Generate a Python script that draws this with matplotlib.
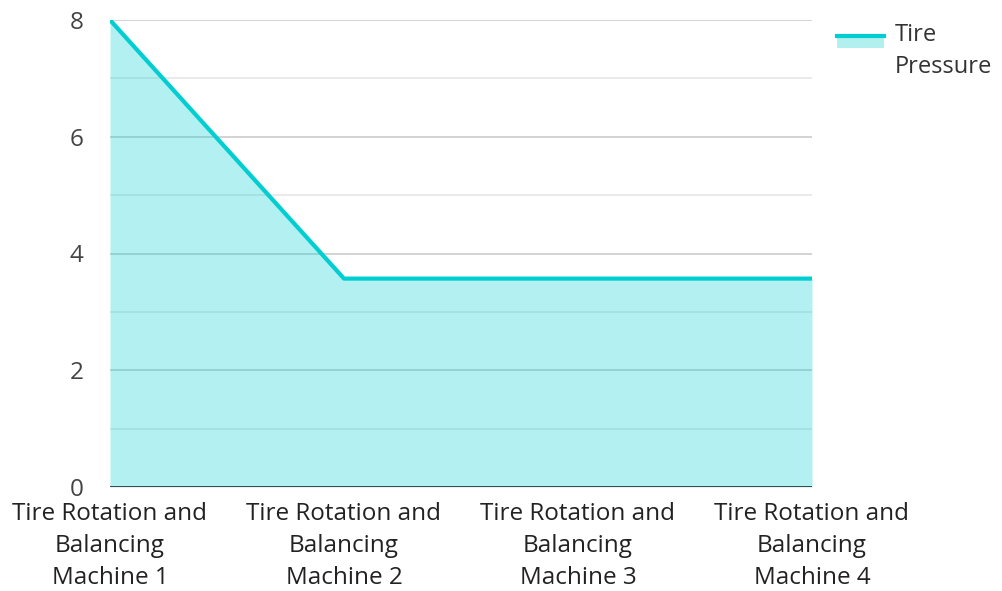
import numpy as np
import matplotlib
matplotlib.use("Agg")
from matplotlib import pyplot as plt
from matplotlib.patches import Rectangle
from matplotlib.lines import Line2D

plt.rcParams['font.family'] = ['Open Sans', 'DejaVu Sans']

# data
machines = ["Tire Rotation and\nBalancing\nMachine 1",
            "Tire Rotation and\nBalancing\nMachine 2",
            "Tire Rotation and\nBalancing\nMachine 3",
            "Tire Rotation and\nBalancing\nMachine 4"]
tire_pressure = [8, 3.57, 3.57, 3.57]
yticks = [0, 2, 4, 6, 8]

line_col = '#00CED1'
fill_col = '#B2F0EF'
fs = 17.5


class AreaHandler:
    # legend key: line level with first text line, light fill below it
    def legend_artist(self, legend, orig_handle, fontsize, handlebox):
        x0, y0 = handlebox.xdescent, handlebox.ydescent
        w, h = handlebox.width, handlebox.height
        top = y0 + h * 1.45
        rect = Rectangle((x0, top - h * 0.72), w, h * 0.72, facecolor=fill_col,
                         lw=0, transform=handlebox.get_transform())
        ln = Line2D([x0, x0 + w], [top, top], color=line_col, lw=3,
                    transform=handlebox.get_transform())
        handlebox.add_artist(rect)
        handlebox.add_artist(ln)
        return ln


fig = plt.figure(figsize=(10.02, 5.91), dpi=100)
ax = fig.add_axes([110/1002, 1 - 487/591, 702/1002, 467/591])

x = np.arange(len(machines))
ax.fill_between(x, tire_pressure, 0, color=line_col, alpha=0.3, lw=0, zorder=3)
ax.plot(x, tire_pressure, color=line_col, lw=3, zorder=4, solid_capstyle='butt')

# grid
for v in range(1, 9):
    ax.axhline(v, color='#cccccc' if v % 2 == 0 else '#e6e6e6', lw=1.2, zorder=1)
ax.axhline(0, color='#333333', lw=2, zorder=5)

ax.set_xlim(0, 3)
ax.set_ylim(0, 8)
ax.set_yticks(yticks)
ax.set_xticks(x)
ax.set_xticklabels(machines, fontsize=fs, color='#222222', linespacing=1.43)
ax.tick_params(axis='y', labelsize=fs, labelcolor='#444444', length=0, pad=19)
ax.tick_params(axis='x', length=0, pad=11)
for s in ax.spines.values():
    s.set_visible(False)

leg = fig.legend(['area'], ["Tire\nPressure"], loc='upper left',
                 bbox_to_anchor=(816/1002, 1 - 2/591), frameon=False,
                 fontsize=17, handlelength=2.0, handletextpad=0.45,
                 labelcolor='#333333',
                 handler_map={str: AreaHandler()})
for t in leg.get_texts():
    t.set_linespacing(1.45)

fig.savefig('out.png', dpi=100)
